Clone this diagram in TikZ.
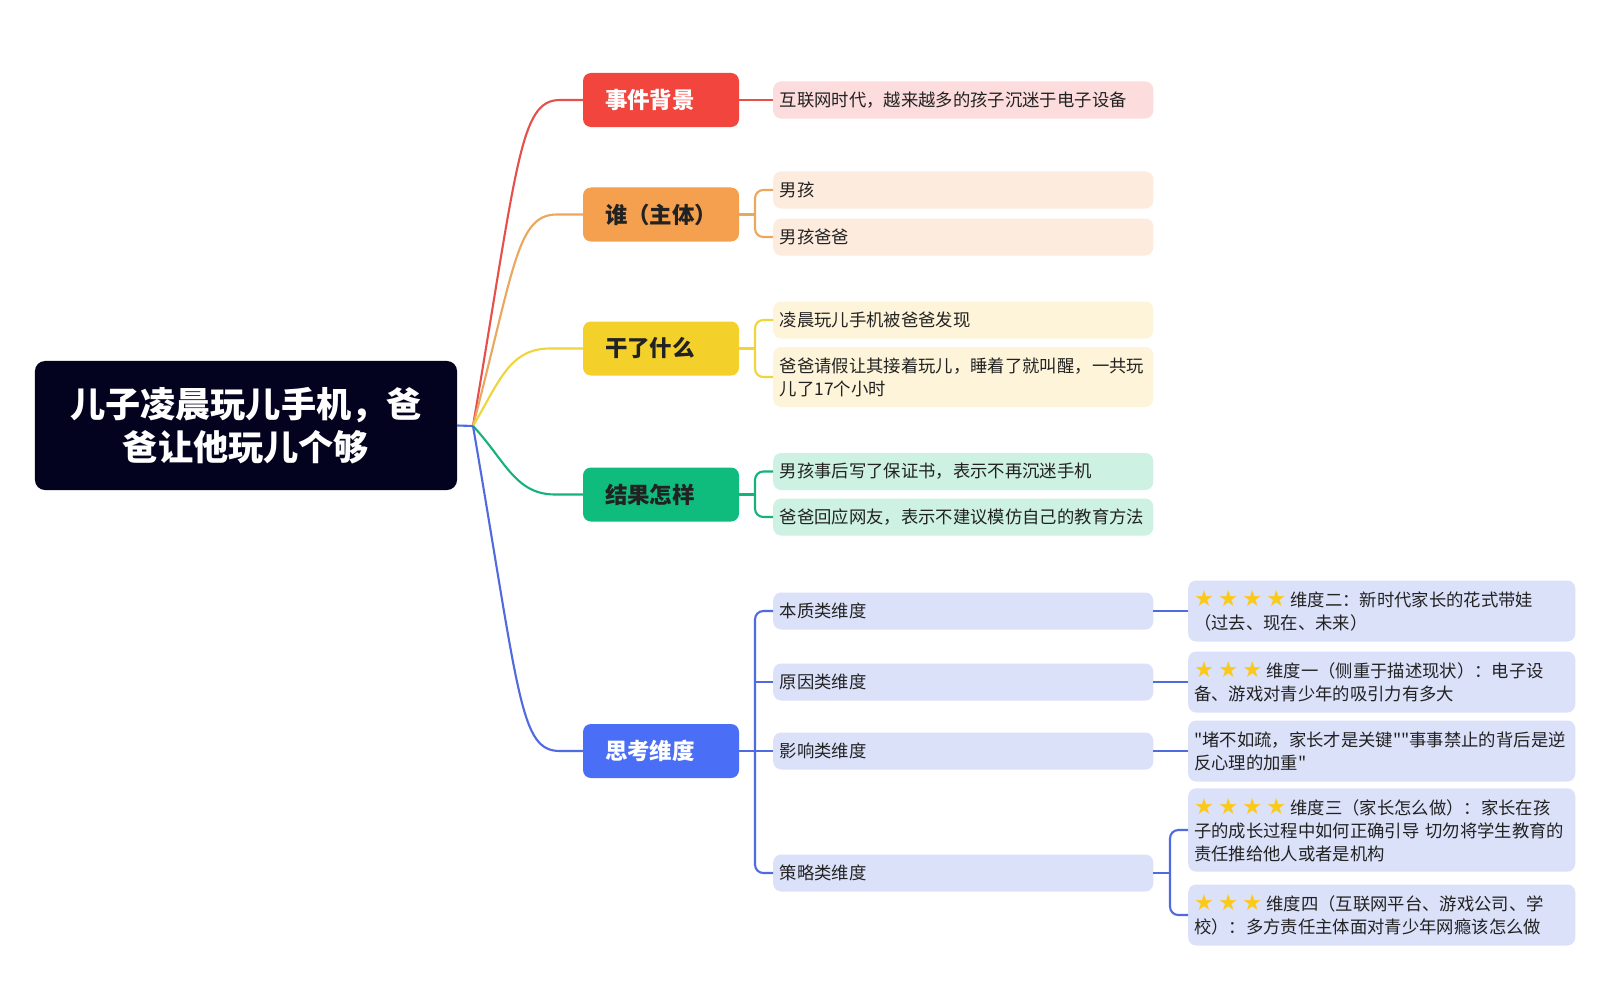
\documentclass[tikz,border=0pt]{standalone}
\usepackage{fontspec}
\setmainfont{Noto Sans CJK SC}[Ligatures=TeXOff]
\newfontfamily\symfont{DejaVu Sans}
\usepackage{xcolor}
\usepackage{tikz}
\definecolor{rootc}{HTML}{03031F}
\definecolor{redc}{HTML}{F2453D}
\definecolor{redl}{HTML}{FCDCDC}
\definecolor{redk}{HTML}{E5504A}
\definecolor{orangec}{HTML}{F5A04E}
\definecolor{orangel}{HTML}{FDEBDE}
\definecolor{orangek}{HTML}{EBA75E}
\definecolor{yellowc}{HTML}{F3D12A}
\definecolor{yellowl}{HTML}{FDF4D9}
\definecolor{yellowk}{HTML}{EFD43D}
\definecolor{greenc}{HTML}{10BB7E}
\definecolor{greenl}{HTML}{CDF1E3}
\definecolor{greenk}{HTML}{17B27C}
\definecolor{bluec}{HTML}{4A6EF5}
\definecolor{bluel}{HTML}{DCE1FA}
\definecolor{bluek}{HTML}{4F6BDF}
\definecolor{textc}{HTML}{222222}
\definecolor{starc}{HTML}{FBC91A}
\newcommand\st{{\fontsize{19pt}{17pt}\symfont\textcolor{starc}{★}}\hspace{3.5pt}}

\begin{document}
\begin{tikzpicture}[x=0.03cm, y=-0.03cm, root/.style={rectangle, rounded corners=0.3cm, fill=rootc, text=white, minimum width=12.66cm, minimum height=3.87cm, align=center, font=\fontsize{30pt}{36.6pt}\selectfont\bfseries}, topic/.style={rectangle, rounded corners=0.24cm, minimum width=4.68cm, minimum height=1.62cm, text width=3.36cm, inner xsep=0.66cm, align=left, text=textc, font=\fontsize{19.2pt}{23pt}\selectfont\bfseries}, sub/.style={rectangle, rounded corners=0.24cm, anchor=west, text width=11cm, inner xsep=0.2cm, minimum height=1.11cm, align=left, text=textc, font=\fontsize{14.8pt}{19.6pt}\selectfont}, leaf/.style={sub, fill=bluel, text width=11.25cm, inner xsep=0.18cm, minimum height=1.83cm}, link/.style={line width=1.8pt}, fork/.style={line width=1.8pt, rounded corners=0.25cm}]
\useasboundingbox[fill=white] (0,0) rectangle (1612,983);
\node[root] (root) at (246,425.5) {儿子凌晨玩儿手机，爸\\爸让他玩儿个够};
\coordinate (j) at (473,426);
\node[topic, fill=redc, text=white] (bg) at (661,100) {事件背景};
\node[topic, fill=orangec] (who) at (661,214.5) {谁（主体）};
\node[topic, fill=yellowc] (what) at (661,348.5) {干了什么};
\node[topic, fill=greenc] (res) at (661,494.5) {结果怎样};
\node[topic, fill=bluec, text=white] (think) at (661,751) {思考维度};
\node[sub, fill=redl] (bg1) at (773,100) {互联网时代，越来越多的孩子沉迷于电子设备};
\node[sub, fill=orangel] (who1) at (773,190) {男孩};
\node[sub, fill=orangel] (who2) at (773,237) {男孩爸爸};
\node[sub, fill=yellowl] (what1) at (773,320) {凌晨玩儿手机被爸爸发现};
\node[sub, fill=yellowl, minimum height=1.8cm] (what2) at (773,377) {爸爸请假让其接着玩儿，睡着了就叫醒，一共玩\\儿了17个小时};
\node[sub, fill=greenl] (res1) at (773,471.5) {男孩事后写了保证书，表示不再沉迷手机};
\node[sub, fill=greenl] (res2) at (773,517) {爸爸回应网友，表示不建议模仿自己的教育方法};
\node[sub, fill=bluel] (dim1) at (773,611) {本质类维度};
\node[sub, fill=bluel] (dim2) at (773,682) {原因类维度};
\node[sub, fill=bluel] (dim3) at (773,751) {影响类维度};
\node[sub, fill=bluel] (dim4) at (773,873) {策略类维度};
\node[leaf] (d1) at (1188,611) {\st\st\st\st 维度二：新时代家长的花式带娃\\（过去、现在、未来）};
\node[leaf] (d2) at (1188,682) {\st\st\st 维度一（侧重于描述现状）：电子设\\备、游戏对青少年的吸引力有多大};
\node[leaf] (d3) at (1188,751) {"堵不如疏，家长才是关键""事事禁止的背后是逆\\反心理的加重"};
\node[leaf, minimum height=2.5cm] (d4) at (1188,830) {\st\st\st\st 维度三（家长怎么做）：家长在孩\\子的成长过程中如何正确引导 切勿将学生教育的\\责任推给他人或者是机构};
\node[leaf] (d5) at (1188,915) {\st\st\st 维度四（互联网平台、游戏公司、学\\校）：多方责任主体面对青少年网瘾该怎么做};
\draw[link, redk] (j) .. controls (518,160) and (520,100) .. (560,100) -- (bg.west);
\draw[link, orangek] (j) .. controls (515,265) and (517,214.5) .. (557,214.5) -- (who.west);
\draw[link, yellowk] (j) .. controls (500,380) and (510,348.5) .. (550,348.5) -- (what.west);
\draw[link, greenk] (j) .. controls (505,460) and (515,494.5) .. (555,494.5) -- (res.west);
\draw[link, bluek] (j) .. controls (520,700) and (520,751) .. (560,751) -- (think.west);
\draw[link, bluek] (root.east) -- (j);
\path[link, redk] (bg.east) edge (bg1.west);
\draw[link, orangek] (who.east) -- ++(16,0);
\draw[fork, orangek] (who1.west) -- ++(-18,0) |- (who2.west);
\draw[link, yellowk] (what.east) -- ++(16,0);
\draw[fork, yellowk] (what1.west) -- ++(-18,0) |- (what2.west);
\draw[link, greenk] (res.east) -- ++(16,0);
\draw[fork, greenk] (res1.west) -- ++(-18,0) |- (res2.west);
\draw[link, bluek] (think.east) -- ++(16,0);
\draw[fork, bluek] (dim1.west) -- ++(-18,0) |- (dim4.west);
\path[link, bluek] (dim2.west) edge ++(-18,0) (dim3.west) edge ++(-18,0);
\path[link, bluek] (dim1.east) edge (d1.west) (dim2.east) edge (d2.west) (dim3.east) edge (d3.west);
\draw[link, bluek] (dim4.east) -- ++(17,0);
\draw[fork, bluek] (d4.west) -- ++(-18,0) |- (d5.west);
\end{tikzpicture}
\end{document}
